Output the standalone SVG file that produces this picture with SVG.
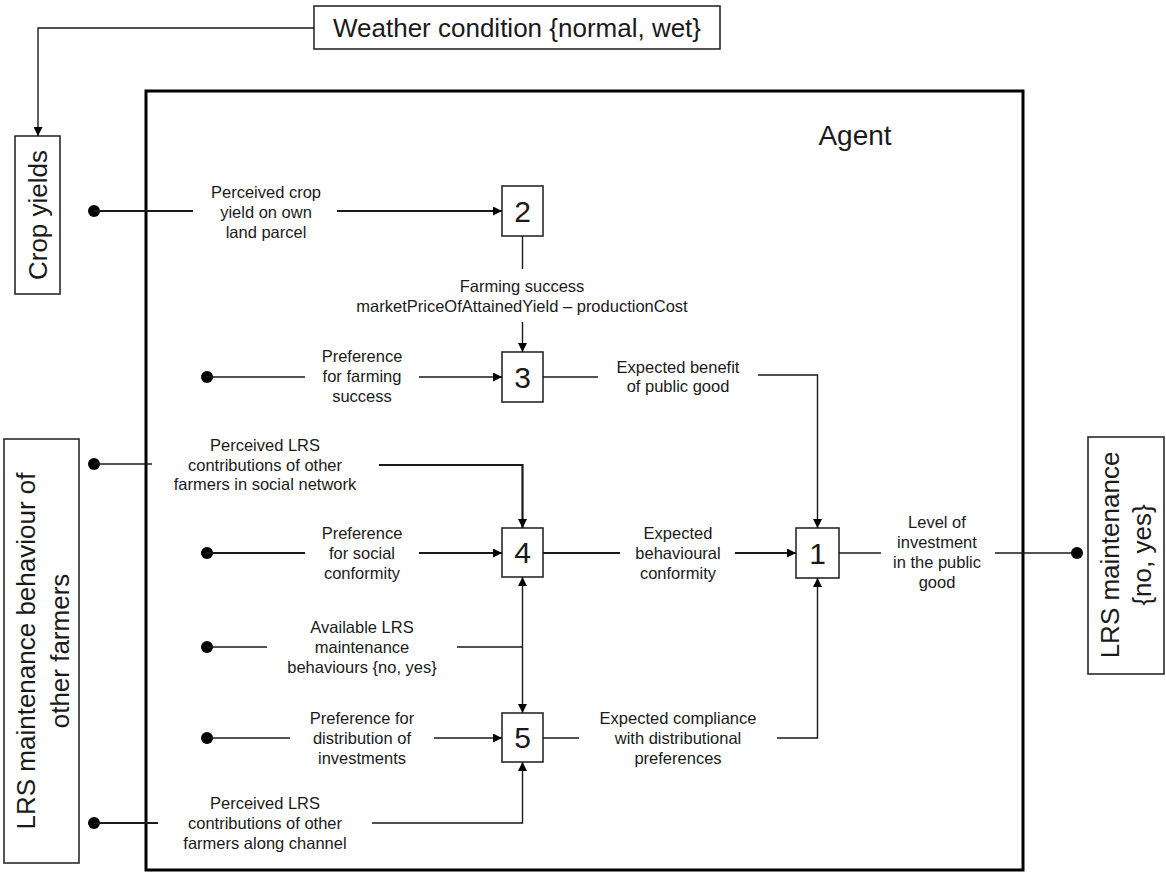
<svg xmlns="http://www.w3.org/2000/svg" width="1166" height="873" viewBox="0 0 1166 873">
<style>
.lbl{font-family:"Liberation Sans",Arial,sans-serif;font-size:16.5px;fill:#1a1a1a;text-anchor:middle}
.big{font-family:"Liberation Sans",Arial,sans-serif;font-size:26px;fill:#1a1a1a;text-anchor:middle}
.num{font-family:"Liberation Sans",Arial,sans-serif;font-size:30px;fill:#1a1a1a;text-anchor:middle}
.box{fill:#fff;stroke:#2a2a2a;stroke-width:1.6}
.ln{fill:none;stroke:#1a1a1a;stroke-width:1.4}
.th{fill:none;stroke:#1a1a1a;stroke-width:2.2}
.dot{fill:#000}
</style>
<defs>
<marker id="ah" viewBox="0 0 10 10" refX="10" refY="5" markerWidth="10" markerHeight="9" markerUnits="userSpaceOnUse" orient="auto">
<path d="M0,0 L10,5 L0,10 z" fill="#000"/>
</marker>
</defs>

<g id="agent">
<rect x="146" y="91" width="877" height="779" fill="none" stroke="#000" stroke-width="3"/>
<text class="big" x="855" y="145" style="font-size:28px">Agent</text>
</g>

<g id="weather">
<rect class="box" x="314" y="6" width="406" height="43"/>
<text class="big" x="517" y="37">Weather condition {normal, wet}</text>
</g>

<g id="crop-yields">
<rect class="box" x="15" y="136" width="45" height="158"/>
<text class="big" transform="translate(47,215) rotate(-90)">Crop yields</text>
</g>

<g id="lrs-others">
<rect class="box" x="4" y="439" width="75" height="424"/>
<text class="big" transform="translate(35,651) rotate(-90)">LRS maintenance behaviour of</text>
<text class="big" transform="translate(69,651) rotate(-90)">other farmers</text>
</g>

<g id="lrs-output">
<rect class="box" x="1088" y="437" width="76" height="237"/>
<text class="big" transform="translate(1119,555) rotate(-90)">LRS maintenance</text>
<text class="big" transform="translate(1151,555) rotate(-90)">{no, yes}</text>
</g>

<g id="node2"><rect class="box" x="502" y="186" width="41" height="50"/><text class="num" x="522.5" y="222">2</text></g>
<g id="node3"><rect class="box" x="502" y="352" width="41" height="50"/><text class="num" x="522.5" y="388">3</text></g>
<g id="node4"><rect class="box" x="502" y="528" width="41" height="49"/><text class="num" x="522.5" y="563">4</text></g>
<g id="node5"><rect class="box" x="502" y="713" width="41" height="49"/><text class="num" x="522.5" y="748">5</text></g>
<g id="node1"><rect class="box" x="796" y="528" width="43" height="50"/><text class="num" x="817.5" y="564">1</text></g>

<g id="connectors">
<!-- weather to crop yields -->
<path class="ln" d="M314,28 H38 V136" marker-end="url(#ah)"/>
<!-- crop yield to 2 -->
<circle class="dot" cx="94" cy="211" r="6"/>
<path class="th" d="M94,211 H193"/>
<path class="th" d="M337,211 H502" marker-end="url(#ah)"/>
<!-- 2 to 3 -->
<path class="ln" d="M522.5,236 V269"/>
<path class="ln" d="M522.5,322 V352" marker-end="url(#ah)"/>
<!-- preference farming success -->
<circle class="dot" cx="207" cy="377" r="6"/>
<path class="ln" d="M207,377 H305"/>
<path class="ln" d="M419,377 H502" marker-end="url(#ah)"/>
<!-- 3 to 1 -->
<path class="ln" d="M543,377 H598"/>
<path class="ln" d="M758,375 H817.5 V528" marker-end="url(#ah)"/>
<!-- social network to 4 -->
<circle class="dot" cx="94" cy="464" r="6"/>
<path class="ln" d="M94,464 H152"/>
<path class="th" d="M379,465 H522.5 V528" marker-end="url(#ah)"/>
<!-- preference social conformity -->
<circle class="dot" cx="207" cy="553" r="6"/>
<path class="th" d="M207,553 H305"/>
<path class="th" d="M419,553 H502" marker-end="url(#ah)"/>
<!-- 4 to 1 -->
<path class="th" d="M543,553 H620"/>
<path class="th" d="M735,553 H796" marker-end="url(#ah)"/>
<!-- 1 to output -->
<path class="ln" d="M839,553 H881"/>
<path class="ln" d="M995,553 H1077"/>
<circle class="dot" cx="1077" cy="553" r="6"/>
<!-- available LRS behaviours -->
<circle class="dot" cx="207" cy="647" r="6"/>
<path class="ln" d="M207,647 H267"/>
<path class="ln" d="M457,647 H522.5"/>
<path class="ln" d="M522.5,647 V577" marker-end="url(#ah)"/>
<path class="ln" d="M522.5,647 V713" marker-end="url(#ah)"/>
<!-- preference distribution -->
<circle class="dot" cx="207" cy="738" r="6"/>
<path class="ln" d="M207,738 H290"/>
<path class="ln" d="M434,738 H502" marker-end="url(#ah)"/>
<!-- 5 to 1 -->
<path class="ln" d="M543,738 H579"/>
<path class="ln" d="M777,738 H817.5 V578" marker-end="url(#ah)"/>
<!-- along channel to 5 -->
<circle class="dot" cx="94" cy="823" r="6"/>
<path class="th" d="M94,823 H158"/>
<path class="ln" d="M372,823 H522.5 V762" marker-end="url(#ah)"/>
</g>

<g id="labels">
<text class="lbl"><tspan x="266" y="198">Perceived crop</tspan><tspan x="266" y="218">yield on own</tspan><tspan x="266" y="238">land parcel</tspan></text>
<text class="lbl"><tspan x="522" y="292">Farming success</tspan><tspan x="522" y="312">marketPriceOfAttainedYield – productionCost</tspan></text>
<text class="lbl"><tspan x="362" y="362">Preference</tspan><tspan x="362" y="382">for farming</tspan><tspan x="362" y="402">success</tspan></text>
<text class="lbl"><tspan x="678" y="373">Expected benefit</tspan><tspan x="678" y="392">of public good</tspan></text>
<text class="lbl"><tspan x="265" y="451">Perceived LRS</tspan><tspan x="265" y="471">contributions of other</tspan><tspan x="265" y="490">farmers in social network</tspan></text>
<text class="lbl"><tspan x="362" y="539">Preference</tspan><tspan x="362" y="559">for social</tspan><tspan x="362" y="579">conformity</tspan></text>
<text class="lbl"><tspan x="678" y="539">Expected</tspan><tspan x="678" y="559">behavioural</tspan><tspan x="678" y="579">conformity</tspan></text>
<text class="lbl"><tspan x="937" y="528">Level of</tspan><tspan x="937" y="548">investment</tspan><tspan x="937" y="568">in the public</tspan><tspan x="937" y="588">good</tspan></text>
<text class="lbl"><tspan x="362" y="633">Available LRS</tspan><tspan x="362" y="653">maintenance</tspan><tspan x="362" y="673">behaviours {no, yes}</tspan></text>
<text class="lbl"><tspan x="362" y="724">Preference for</tspan><tspan x="362" y="744">distribution of</tspan><tspan x="362" y="764">investments</tspan></text>
<text class="lbl"><tspan x="678" y="724">Expected compliance</tspan><tspan x="678" y="744">with distributional</tspan><tspan x="678" y="764">preferences</tspan></text>
<text class="lbl"><tspan x="265" y="809">Perceived LRS</tspan><tspan x="265" y="829">contributions of other</tspan><tspan x="265" y="849">farmers along channel</tspan></text>
</g>
</svg>
